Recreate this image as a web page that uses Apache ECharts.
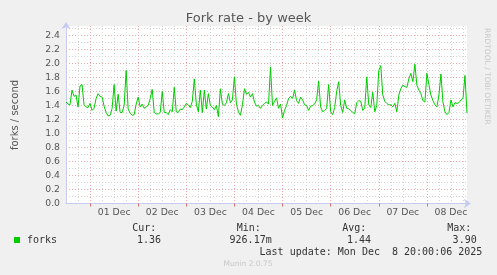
<!DOCTYPE html>
<html>
<head>
<meta charset="utf-8">
<script src="https://cdn.jsdelivr.net/npm/echarts@6/dist/echarts.min.js"></script>
<style>
html,body{margin:0;padding:0;background:#f0f0f0;}
#c{width:497px;height:275px;}
</style>
</head>
<body>
<div id="c"></div>
<script>
// Hours counted from the left edge of the plot (Nov 30, ~12:00); one value per hour.
const dayLabels = ['01 Dec','02 Dec','03 Dec','04 Dec','05 Dec','06 Dec','07 Dec','08 Dec'];
const yTickValues = [0.0,0.2,0.4,0.6,0.8,1.0,1.2,1.4,1.6,1.8,2.0,2.2,2.4];
const forks = [
1.45,1.42,1.41,1.62,1.53,1.55,1.38,1.68,1.70,1.41,
1.38,1.37,1.43,1.33,1.36,1.50,1.57,1.53,1.52,1.39,
1.30,1.25,1.26,1.36,1.70,1.32,1.56,1.30,1.30,1.40,
1.90,1.35,1.29,1.26,1.27,1.42,1.52,1.38,1.42,1.36,
1.38,1.40,1.50,1.63,1.30,1.28,1.28,1.30,1.60,1.30,
1.30,1.27,1.34,1.31,1.66,1.31,1.30,1.35,1.34,1.38,
1.43,1.41,1.37,1.46,1.78,1.42,1.31,1.62,1.30,1.62,
1.35,1.57,1.40,1.38,1.34,1.40,1.24,1.64,1.42,1.40,
1.44,1.57,1.44,1.48,1.81,1.42,1.31,1.26,1.41,1.64,
1.56,1.59,1.52,1.57,1.45,1.39,1.40,1.36,1.40,1.43,
1.45,1.42,1.95,1.40,1.46,1.51,1.36,1.42,1.22,1.33,
1.40,1.50,1.53,1.50,1.62,1.47,1.43,1.52,1.48,1.41,
1.40,1.33,1.39,1.40,1.42,1.48,1.75,1.38,1.31,1.33,
1.36,1.70,1.31,1.27,1.37,1.60,1.74,1.40,1.30,1.48,
1.36,1.35,1.33,1.30,1.28,1.44,1.47,1.46,1.33,1.36,
1.81,1.41,1.37,1.59,1.31,1.40,1.90,1.97,1.55,1.46,
1.43,1.41,1.41,1.38,1.43,1.31,1.55,1.64,1.69,1.67,
1.66,1.78,1.86,1.74,1.99,1.69,1.62,1.57,1.47,1.45,
1.86,1.70,1.55,1.47,1.41,1.38,1.55,1.85,1.45,1.31,
1.27,1.30,1.48,1.38,1.44,1.43,1.44,1.48,1.50,1.83,
1.29
];
const legendName = 'forks';
const statLabels = ['Cur:','Min:','Avg:','Max:'];
const statValues = ['1.36','926.17m','1.44','3.90'];

const totalHours = forks.length - 1;                 // 200 hours shown
const dayStarts = dayLabels.map((d,i)=>12 + 24*i);   // midnights (hours from left edge)

const FONT = 'DejaVu Sans';
const AXIS = '#c6cbef';
const MAJOR = '#e8aaaa';
const MINOR = '#d4d4d4';
const TXT = '#555555';
const MONOFONT = '10px "DejaVu Sans Mono"';

const chart = echarts.init(document.getElementById('c'), null, {renderer:'canvas'});
chart.setOption({
  animation:false,
  backgroundColor:'#f0f0f0',
  grid:{left:66,right:30,top:26,bottom:71.5,show:true,backgroundColor:'#ffffff',borderWidth:0,containLabel:false},
  xAxis:[
    { // minor grid every 6 h + day labels at noon
      type:'value',min:0,max:totalHours,interval:6,position:'bottom',
      axisLine:{show:true,lineStyle:{color:AXIS,width:1},symbol:['none','arrow'],symbolSize:[7,7],symbolOffset:[0,4]},
      axisTick:{show:false},
      axisLabel:{
        color:TXT,fontSize:9.3,fontFamily:FONT,margin:5,showMinLabel:false,showMaxLabel:false,
        formatter:v=>{const k=Math.round(v/24); return (Math.abs(v-24*k)<0.01&&k>=1&&k<=dayLabels.length)?dayLabels[k-1]:'';}
      },
      splitLine:{show:true,showMinLine:false,showMaxLine:false,lineStyle:{color:MINOR,width:1,type:[1,2]}}
    },
    { // major grid + red ticks at midnights
      type:'value',min:0,max:totalHours,position:'bottom',
      axisLine:{show:false},
      axisTick:{show:true,customValues:dayStarts,length:3,lineStyle:{color:'#e07070',width:1}},
      axisLabel:{show:false},
      splitLine:{show:true,lineStyle:{color:MAJOR,width:1,type:[1,2]}}
    }
  ],
  yAxis:[
    {
      type:'value',min:0,max:2.5357,interval:0.1,position:'left',
      axisLine:{show:false},
      axisTick:{show:false},
      axisLabel:{show:false},
      splitLine:{show:true,showMinLine:false,showMaxLine:false,lineStyle:{color:MINOR,width:1,type:[1,2]}}
    },
    {
      type:'value',min:0,max:2.5357,interval:0.2,position:'left',offset:0,
      axisLine:{show:true,onZero:false,lineStyle:{color:AXIS,width:1},symbol:['none','arrow'],symbolSize:[7,7],symbolOffset:[0,4]},
      axisTick:{show:false},
      axisLabel:{
        color:TXT,fontSize:9.3,fontFamily:FONT,margin:6,
        formatter:v=>{const m=yTickValues.find(t=>Math.abs(t-v)<0.001); return m===undefined?'':m.toFixed(1);}
      },
      splitLine:{show:true,showMinLine:false,showMaxLine:false,lineStyle:{color:MAJOR,width:1,type:[1,2]}}
    }
  ],
  series:[{
    name:legendName,type:'line',xAxisIndex:0,yAxisIndex:0,data:forks.map((v,i)=>[i,v]),
    symbol:'none',showSymbol:false,silent:true,z:5,
    lineStyle:{color:'#00cc00',width:1}
  }],
  graphic:[
    {type:'text',left:'center',top:12,style:{text:'Fork rate - by week',fill:TXT,font:'13px "DejaVu Sans"'}},
    {type:'text',x:10,y:115,rotation:Math.PI/2,style:{text:'forks / second',fill:TXT,font:'10px "DejaVu Sans"',textAlign:'center',textVerticalAlign:'top'}},
    {type:'text',x:483,y:28,rotation:-Math.PI/2,style:{text:'RRDTOOL / TOBI OETIKER',fill:'#c8c8c8',font:'7.5px "DejaVu Sans"',textAlign:'left',textVerticalAlign:'bottom'}},
    {type:'rect',shape:{x:14,y:237,width:6,height:6},style:{fill:'#00cc00'}},
    {type:'text',x:27,y:240,style:{text:legendName,fill:'#333',font:MONOFONT,textVerticalAlign:'middle'}},
    {type:'text',x:132.3,y:228,style:{text:statLabels[0],fill:'#333',font:MONOFONT,textVerticalAlign:'middle'}},
    {type:'text',x:236.7,y:228,style:{text:statLabels[1],fill:'#333',font:MONOFONT,textVerticalAlign:'middle'}},
    {type:'text',x:342.3,y:228,style:{text:statLabels[2],fill:'#333',font:MONOFONT,textVerticalAlign:'middle'}},
    {type:'text',x:447.3,y:228,style:{text:statLabels[3],fill:'#333',font:MONOFONT,textVerticalAlign:'middle'}},
    {type:'text',x:161,y:240,style:{text:statValues[0],fill:'#333',font:MONOFONT,textAlign:'right',textVerticalAlign:'middle'}},
    {type:'text',x:271.7,y:240,style:{text:statValues[1],fill:'#333',font:MONOFONT,textAlign:'right',textVerticalAlign:'middle'}},
    {type:'text',x:371,y:240,style:{text:statValues[2],fill:'#333',font:MONOFONT,textAlign:'right',textVerticalAlign:'middle'}},
    {type:'text',x:476.7,y:240,style:{text:statValues[3],fill:'#333',font:MONOFONT,textAlign:'right',textVerticalAlign:'middle'}},
    {type:'text',x:482.3,y:252,style:{text:'Last update: Mon Dec  8 20:00:06 2025',fill:'#333',font:MONOFONT,textAlign:'right',textVerticalAlign:'middle'}},
    {type:'text',x:248,y:264,style:{text:'Munin 2.0.75',fill:'#c8c8c8',font:'7.5px "DejaVu Sans"',textAlign:'center',textVerticalAlign:'middle'}}
  ]
});
</script>
</body>
</html>
